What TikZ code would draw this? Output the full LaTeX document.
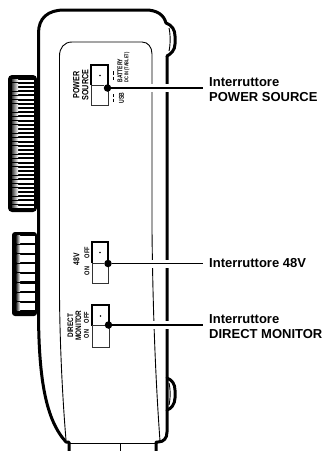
\documentclass[tikz,border=0pt]{standalone}
\usepackage{fontspec}
\setmainfont{Liberation Sans}
\usepackage{graphicx}
\newcommand{\nrw}[1]{\scalebox{0.8}[1]{#1}}
\begin{document}
\begin{tikzpicture}[x=1pt,y=-1pt,
  bodyline/.style={line width=3pt, line join=round, line cap=round},
  thinline/.style={line width=0.9pt},
  swtop/.style={line width=1.5pt, line join=miter},
  swbot/.style={line width=0.8pt, black!80},
  leader/.style={line width=1.7pt, preaction={draw=white, line width=8pt}},
  callout/.style={font=\bfseries\fontsize{13}{15}\selectfont, inner sep=0pt, anchor=west, align=left},
  swtext/.style={font=\bfseries\fontsize{#1}{#1}\selectfont, inner sep=0pt, rotate=90, align=center},
  bigdot/.style={circle, fill=black, inner sep=0pt, minimum size=7.5pt},
  smalldot/.style={circle, fill=black, inner sep=0pt, minimum size=1.8pt},
]
\useasboundingbox (0,0) rectangle (325,451);
% knob 1
\fill[rounded corners=4pt] (8,75) rectangle (37,212);
\foreach \k in {0,...,30}{
  \fill[white] (18,79.5+4.2*\k) rectangle (34,81.8+4.2*\k);
  \shade[left color=black!75, right color=white] (12,79.5+4.2*\k) rectangle (18,81.8+4.2*\k);
}
% knob 2
\fill[rounded corners=3pt] (12,232) rectangle (37,316);
\foreach \k in {0,...,7}{
  \fill[white] (20,235.5+9.6*\k) rectangle (34.5,243+9.6*\k);
  \shade[left color=black!75, right color=white] (16.5,235.5+9.6*\k) rectangle (20,243+9.6*\k);
}
% inner panel
\draw[thinline] (66,440) .. controls (61,380) and (59.5,320) .. (59.5,290) -- (59.5,56)
  .. controls (59.5,48) and (64,42) .. (72,42) -- (142,42)
  .. controls (148,42) and (152,47) .. (152,54) -- (152,230)
  .. controls (153,330) and (157,400) .. (160,441);
% body outline
\draw[bodyline] (156,452) -- (156,442) -- (158,442) .. controls (164,442) and (167,438) .. (167,432) -- (167,56);
\draw[bodyline] (69,452) -- (69,442) -- (66,442) .. controls (46,420) and (39,380) .. (38.5,316) -- (38.5,33)
  .. controls (38.5,18) and (48,10) .. (64,10) -- (146,10)
  .. controls (157,10) and (164,15) .. (166,23);
% ear (top) and bump (bottom)
\draw[bodyline] (166,23) .. controls (172,25) and (175,30) .. (175,36) -- (175,44)
  .. controls (175,50) and (171,54) .. (167,56);
\draw[thinline] (169,28) .. controls (170.5,34) and (170.5,45) .. (169,51);
\draw[bodyline] (167,378) .. controls (172,380) and (175,384) .. (175,390) -- (175,398)
  .. controls (175,404) and (171,409) .. (167,410);
\draw[thinline] (169,383) .. controls (170.5,389) and (170.5,399) .. (169,405);
% foot
\draw[line width=1.2pt] (69,443.5) -- (156,443.5);
\draw[thinline] (120,443.5) -- (120,452);

% switch POWER SOURCE
\draw[swtop] (91,85) -- (91,65) -- (108,65) -- (108,85);
\draw[swbot] (91,85) -- (91,105) -- (108,105) -- (108,88);
\draw[swbot] (91,85) -- (104,85);
\node[smalldot] (psmark) at (100,75.5) {};
\draw[line width=0.8pt] (113,71) -- (113,74.5) (113,76.5) -- (113,80);
\draw[line width=0.8pt] (113,94) -- (113,97) (113,98.5) -- (113,101.5);
\node[swtext=9] (pstxt) at (80.8,85) {\nrw{POWER}\\\nrw{SOURCE}};
\node[swtext=7, anchor=west] (battxt) at (120,82.5) {\scalebox{0.72}[1]{BATTERY}};
\node[swtext=5.5, anchor=west] (dctxt) at (127,82.5) {\scalebox{0.72}[1]{DC IN (TABLET)}};
\node[swtext=7, anchor=west] (usbtxt) at (121.5,103.5) {\scalebox{0.72}[1]{USB}};

% switch 48V
\draw[swtop] (92,263) -- (92,242) -- (108,242) -- (108,263);
\draw[swbot] (92,263) -- (92,283) -- (108,283) -- (108,263);
\draw[swbot] (92,263) -- (104,263);
\node[smalldot] (vmark) at (100,252.5) {};
\node[swtext=8.5] (vtxt) at (76.5,259.5) {\nrw{48V}};
\node[swtext=7] (voff) at (87,252.5) {\nrw{OFF}};
\node[swtext=7] (von) at (87,271) {\nrw{ON}};

% switch DIRECT MONITOR
\draw[swtop] (92,325.5) -- (92,305) -- (109,305) -- (109,325.5);
\draw[swbot] (92,325.5) -- (92,347) -- (109,347) -- (109,325.5);
\draw[swbot] (92,325.5) -- (105,325.5);
\node[smalldot] (dmmark) at (100.5,316) {};
\node[swtext=8] (dmtxt) at (74.3,325.5) {\nrw{DIRECT}\\\nrw{MONITOR}};
\node[swtext=7] (dmoff) at (86.5,317.5) {\nrw{OFF}};
\node[swtext=7] (dmon) at (86.5,334) {\nrw{ON}};

% callouts
\node[callout] (pslab) at (209,90) {Interruttore\\POWER SOURCE};
\node[callout] (vlab) at (209,263) {Interruttore 48V};
\node[callout] (dmlab) at (209,326.5) {Interruttore\\DIRECT MONITOR};
\coordinate (psend) at (203,88);
\coordinate (vend) at (203,263.5);
\coordinate (dmend) at (203,325);
\node[bigdot] (psdot) at (107.5,88) {};
\node[bigdot] (vdot) at (108,263.5) {};
\node[bigdot] (dmdot) at (108.5,325) {};
\draw[leader] (psdot) -- (psend);
\draw[leader] (vdot) -- (vend);
\draw[leader] (dmdot) -- (dmend);
\end{tikzpicture}
\end{document}
